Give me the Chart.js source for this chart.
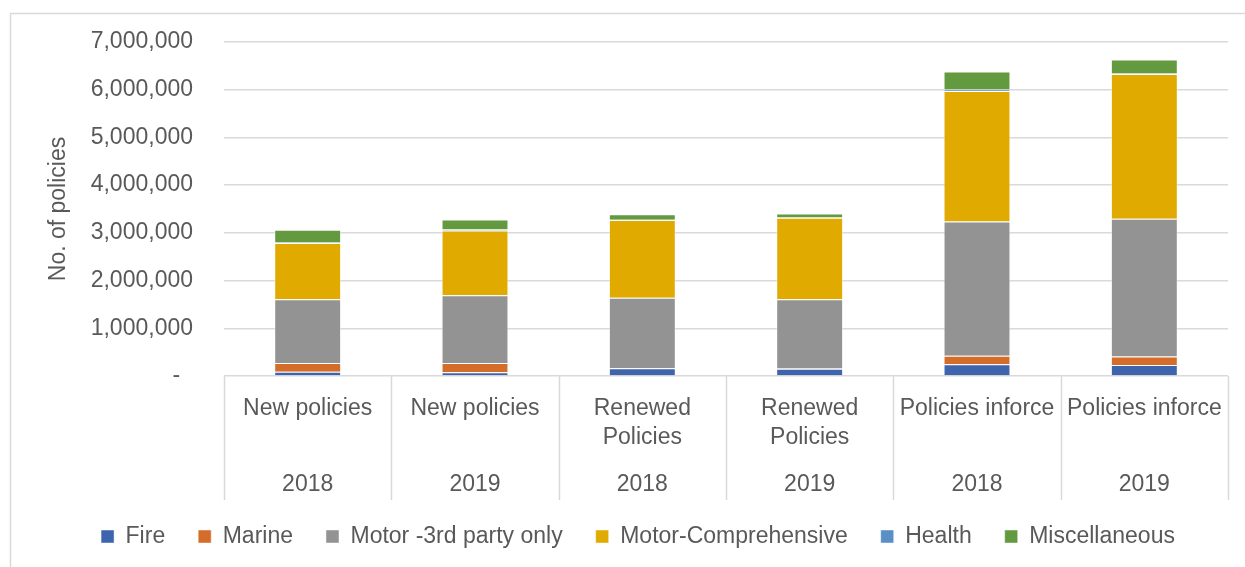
<!DOCTYPE html>
<html>
<head>
<meta charset="utf-8">
<script src="https://cdn.jsdelivr.net/npm/chart.js@4/dist/chart.umd.min.js"></script>
<style>
  html, body { margin: 0; padding: 0; background: #ffffff; }
  #wrap { position: relative; width: 1245px; height: 567px; }
</style>
</head>
<body>
<div id="wrap"><canvas id="c" width="1245" height="567"></canvas></div>
<script>
// ---- data ----
const groupLabels = [['New policies'], ['New policies'], ['Renewed', 'Policies'], ['Renewed', 'Policies'], ['Policies inforce'], ['Policies inforce']];
const yearLabels = ['2018', '2019', '2018', '2019', '2018', '2019'];
const seriesNames = ['Fire', 'Marine', 'Motor -3rd party only', 'Motor-Comprehensive', 'Health', 'Miscellaneous'];
const fire = [90000, 77000, 160000, 153000, 244000, 230000];
const marine = [180000, 195000, 5000, 3000, 181000, 180000];
const motorThirdParty = [1340000, 1420000, 1475000, 1455000, 2815000, 2885000];
const motorComprehensive = [1180000, 1360000, 1630000, 1705000, 2735000, 3035000];
const health = [10000, 20000, 5000, 5000, 30000, 10000];
const miscellaneous = [265000, 210000, 115000, 85000, 375000, 295000];
const yTicks = [0, 1000000, 2000000, 3000000, 4000000, 5000000, 6000000, 7000000];

// ---- styles ----
const colors = ['#3D64AD', '#D46D2A', '#939393', '#E1AA00', '#5A8FC6', '#639A3F'];
const FONT = 'Liberation Sans, Arial, sans-serif';
const TXT = '#595959';
const GRID = '#d9d9d9';

const seriesValues = [fire, marine, motorThirdParty, motorComprehensive, health, miscellaneous];
const categoryKeys = yearLabels.map((y, i) => groupLabels[i].join(' ') + ' ' + y);

const datasets = seriesNames.map((name, k) => ({
  label: name,
  data: seriesValues[k],
  backgroundColor: colors[k],
  borderColor: 'rgba(255,255,255,0.45)',
  borderWidth: 1,
  categoryPercentage: 1.0,
  barPercentage: 0.4
}));

const frame = {
  id: 'frame',
  beforeDraw(chart) {
    const ctx = chart.ctx;
    ctx.save();
    ctx.strokeStyle = GRID;
    ctx.lineWidth = 1.5;
    ctx.beginPath();
    ctx.moveTo(10.5, 567);
    ctx.lineTo(10.5, 13.5);
    ctx.lineTo(1245, 13.5);
    ctx.stroke();
    ctx.restore();
  }
};

const legendShift = {
  id: 'legendShift',
  afterLayout(chart) {
    if (chart.legend) {
      chart.legend.left += 18;
      chart.legend.right += 18;
    }
  }
};

const multiLevel = {
  id: 'multiLevel',
  afterDraw(chart) {
    const ctx = chart.ctx;
    const xs = chart.scales.x;
    const area = chart.chartArea;
    const n = categoryKeys.length;
    const w = (area.right - area.left) / n;
    ctx.save();
    ctx.strokeStyle = GRID;
    ctx.lineWidth = 1.5;
    for (let i = 0; i <= n; i++) {
      const x = Math.round(area.left + i * w) + 0.5;
      ctx.beginPath();
      ctx.moveTo(x, area.bottom);
      ctx.lineTo(x, 500);
      ctx.stroke();
    }
    ctx.fillStyle = TXT;
    ctx.font = '23px ' + FONT;
    ctx.textAlign = 'center';
    ctx.textBaseline = 'middle';
    for (let i = 0; i < n; i++) {
      const x = xs.getPixelForValue(i);
      groupLabels[i].forEach((line, j) => ctx.fillText(line, x, 409 + j * 29));
      ctx.fillText(yearLabels[i], x, 485);
    }
    ctx.restore();
  }
};

new Chart(document.getElementById('c'), {
  type: 'bar',
  data: { labels: categoryKeys, datasets },
  plugins: [frame, legendShift, multiLevel],
  options: {
    responsive: false,
    animation: false,
    layout: { padding: { left: 12, right: 17, top: 42, bottom: 9 } },
    plugins: {
      legend: {
        position: 'bottom',
        labels: {
          boxWidth: 13,
          boxHeight: 13,
          padding: 33,
          color: TXT,
          font: { family: FONT, size: 23 }
        }
      },
      tooltip: { enabled: false }
    },
    scales: {
      x: {
        stacked: true,
        grid: { display: false },
        border: { display: false },
        ticks: { display: false },
        afterFit(scale) { scale.height = 116; }
      },
      y: {
        stacked: true,
        min: 0,
        max: 7000000,
        afterBuildTicks(scale) { scale.ticks = yTicks.map(v => ({ value: v })); },
        afterFit(scale) { scale.width = 212; scale.paddingTop = 0; scale.paddingBottom = 0; },
        border: { display: false },
        grid: { color: GRID, lineWidth: 1.5, drawTicks: false },
        ticks: {
          padding: 31,
          color: TXT,
          font: { family: FONT, size: 23 },
          callback(v) { return v === 0 ? '-  ' : Number(v).toLocaleString('en-US'); }
        },
        title: {
          display: true,
          text: 'No. of policies',
          color: TXT,
          font: { family: FONT, size: 23 },
          padding: { top: 33, bottom: 4 }
        }
      }
    }
  }
});
</script>
</body>
</html>
